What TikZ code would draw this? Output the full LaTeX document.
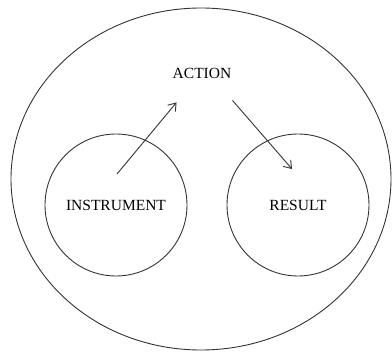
\documentclass[tikz,border=0pt]{standalone}
\usepackage{fontspec}
\setmainfont{Liberation Serif}
\usetikzlibrary{arrows.meta,calc}
\colorlet{linea}{black!80}
\tikzset{cerchio/.style={draw=linea,line width=0.9pt,circle,minimum size=142pt,inner sep=0pt},
  parola/.style={font=\fontsize{15.5}{18}\selectfont,inner sep=0pt},
  freccia/.style={-{Straight Barb[length=7pt,width=10pt]},line width=0.9pt,linea}}

\begin{document}
\begin{tikzpicture}[x=1pt,y=1pt]
\useasboundingbox (0,0) rectangle (392,354);
\draw[linea,line width=0.9pt] (201,175) ellipse (190 and 171);
\node[cerchio,parola] (instr) at (116,149) {INSTRUMENT};
\node[cerchio,parola] (result) at (298,149) {RESULT};
\node[parola] (action) at (202,281) {ACTION};
\coordinate (coda) at ($(instr.center)+(1,31)$);
\draw[freccia] (coda) -- ([shift={(4,-24)}]action.south west);
\draw[freccia] ([shift={(1,-22)}]action.south east) -- ($(result.center)+(-6,36)$);
\end{tikzpicture}
\end{document}
